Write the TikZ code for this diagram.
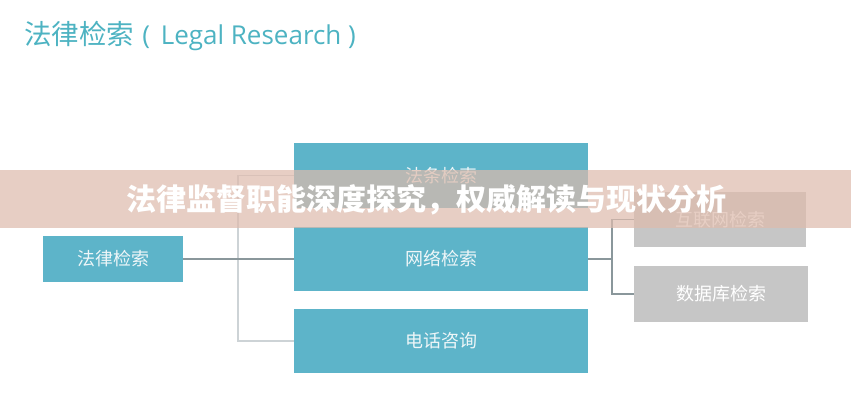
\documentclass[tikz,border=0pt]{standalone}
\usepackage{fontspec}
\newfontfamily\cjk{Noto Sans CJK SC}
\newfontfamily\latinsans{Open Sans}
\definecolor{teal1}{HTML}{5DB4C9}
\definecolor{titlecol}{HTML}{4DB3C2}
\definecolor{graybox}{HTML}{C6C6C6}
\definecolor{darkline}{HTML}{8A979B}
\definecolor{lightline}{HTML}{CDD3D6}
\definecolor{bannercol}{RGB}{222,187,172}
\definecolor{boxtext}{HTML}{EEF6F8}
\begin{document}
\begin{tikzpicture}[x=1pt,y=-1pt,
  bluebox/.style={fill=teal1,draw=none,inner sep=0pt,text=boxtext,font=\cjk\fontsize{18}{18}\selectfont},
  greybox/.style={fill=graybox,draw=none,inner sep=0pt,text=white,font=\cjk\fontsize{18}{18}\selectfont},
  darkconn/.style={draw=darkline,line width=1.3pt},
  lightconn/.style={draw=lightline,line width=1.3pt}]
\useasboundingbox (0,0) rectangle (851,400);
\fill[white] (0,0) rectangle (851,400);
% title
\node[anchor=west,inner sep=0pt,text=titlecol,font=\cjk\fontsize{27.5}{27.5}\selectfont] (title) at (24,36) {法律检索\hspace{0.3em}{\latinsans\fontsize{26}{26}\selectfont (\hspace{0.15em} Legal Research )}};
% boxes
\node[bluebox,minimum width=140pt,minimum height=46pt] (root) at (113,259) {法律检索};
\node[bluebox,minimum width=294pt,minimum height=65pt] (fatiao) at (441,175.5) {法条检索};
\node[bluebox,minimum width=294pt,minimum height=64pt] (wangluo) at (441,259) {网络检索};
\node[bluebox,minimum width=294pt,minimum height=64pt] (dianhua) at (441,341) {电话咨询};
\node[greybox,minimum width=172pt,minimum height=55pt] (hulian) at (720,219.5) {互联网检索};
\node[greybox,minimum width=174pt,minimum height=56pt] (shuju) at (721,294) {数据库检索};
% connectors left
\coordinate (jtop) at (238,175.5);
\coordinate (jbot) at (238,341);
\draw[lightconn] (fatiao.west) -- (jtop) -- (jbot) -- (dianhua.west);
\draw[darkconn] (root.east) -- (wangluo.west);
% connectors right
\coordinate (rmid) at (612,259);
\coordinate (rtop) at (612,219.5);
\coordinate (rbot) at (612,294);
\draw[darkconn] (wangluo.east) -- (rmid);
\draw[darkconn] (hulian.west) -- (rtop) -- (rbot) -- (shuju.west);
% banner overlay
\fill[bannercol,opacity=0.71] (0,170) rectangle (851,228);
\node[inner sep=0pt,text=white,font=\cjk\bfseries\fontsize{30}{30}\selectfont] (banner) at (426,200) {法律监督职能深度探究，权威解读与现状分析};
\end{tikzpicture}
\end{document}
